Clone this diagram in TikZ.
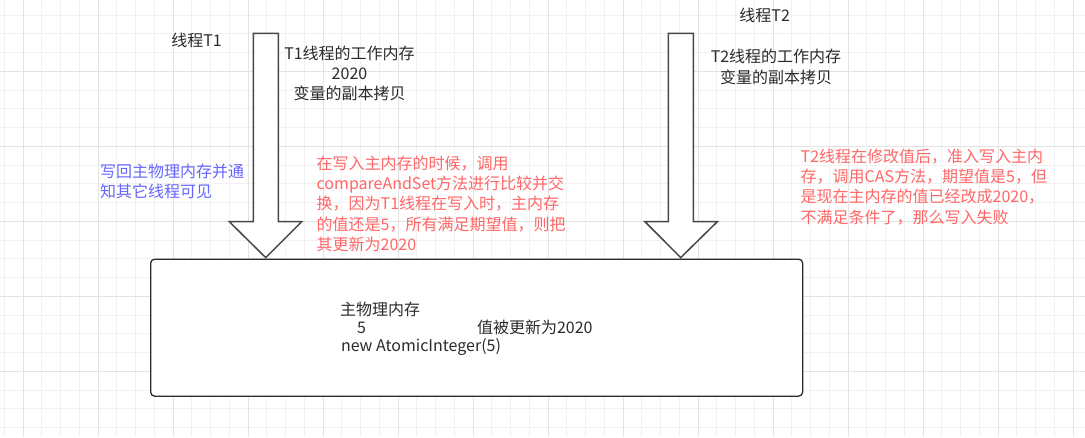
\documentclass[tikz,border=0pt]{standalone}
\usepackage{fontspec}
\setmainfont{Noto Sans CJK SC}
\definecolor{txt}{HTML}{2B2B2B}
\definecolor{bluetxt}{HTML}{6666FF}
\definecolor{redtxt}{HTML}{FF6666}
\definecolor{gridminor}{HTML}{F1F1F1}
\definecolor{gridmajor}{HTML}{E3E3E3}
\definecolor{shapeline}{HTML}{474747}
\begin{document}
\begin{tikzpicture}[x=1pt,y=-1pt,
  lbl/.style={inner sep=0pt,outer sep=0pt,text=txt,font=\fontsize{16}{20.3}\selectfont},
  bluelbl/.style={lbl,text=bluetxt,align=left,anchor=west},
  redlbl/.style={lbl,text=redtxt,align=left,anchor=west},
  blockarrow/.style={draw=shapeline,line width=1.5pt,fill=white,line join=miter},
  membox/.style={draw=txt,line width=1.3pt,fill=white,rounded corners=4pt}]
\useasboundingbox (0,0) rectangle (1085,437);
\fill[white] (0,0) rectangle (1085,437);
% grid
\foreach \i in {0,...,57} {
  \draw[gridminor,line width=0.9pt] ({4.25+18.75*\i},0) -- ({4.25+18.75*\i},437);
}
\foreach \i in {0,...,23} {
  \draw[gridminor,line width=0.9pt] (0,{-3.7+18.75*\i}) -- (1085,{-3.7+18.75*\i});
}
\foreach \i in {0,...,14} {
  \draw[gridmajor,line width=0.9pt] ({23+75*\i},0) -- ({23+75*\i},437);
}
\foreach \i in {0,...,5} {
  \draw[gridmajor,line width=0.9pt] (0,{-3.7+75*\i}) -- (1085,{-3.7+75*\i});
}
% main memory box
\node[membox,minimum width=652pt,minimum height=137pt,anchor=north west] (mem) at (150,258.5) {};
% block arrows
\draw[blockarrow] (253.3,33.3) -- (278.3,33.3) -- (278.3,221.7) -- (301.7,221.7)
  -- (265.7,257.6) -- (229.3,221.7) -- (253.3,221.7) -- cycle;
\draw[blockarrow] (668.3,33.3) -- (693.3,33.3) -- (693.3,221.7) -- (717.3,221.7)
  -- (680.7,257.6) -- (645,221.7) -- (668.3,221.7) -- cycle;
% labels
\node[lbl] (t1) at (196.5,40) {线程T1};
\node[lbl,align=center] (t1mem) at (349.5,73.5) {T1线程的工作内存\\2020\\变量的副本拷贝};
\node[lbl] (t2) at (764.7,15) {线程T2};
\node[lbl,align=center] (t2mem) at (776,67) {T2线程的工作内存\\变量的副本拷贝};
\node[bluelbl] (writeback) at (100,181.7) {写回主物理内存并通\\知其它线程可见};
\node[redlbl] (cas1) at (316.7,203.6) {在写入主内存的时候，调用\\compareAndSet方法进行比较并交\\换，因为T1线程在写入时，主内存\\的值还是5，所有满足期望值，则把\\其更新为2020};
\node[redlbl] (cas2) at (800.7,186.7) {T2线程在修改值后，准入写入主内\\存，调用CAS方法，期望值是5，但\\是现在主内存的值已经改成2020，\\不满足条件了，那么写入失败};
\node[lbl,anchor=west] (memtitle) at (340,309) {主物理内存};
\node[lbl,anchor=west] (memval) at (357,327.5) {5};
\node[lbl,anchor=west] (memnew) at (477,327.5) {值被更新为2020};
\node[lbl,anchor=west] (memcode) at (341,346.5) {new AtomicInteger(5)};
\end{tikzpicture}
\end{document}
